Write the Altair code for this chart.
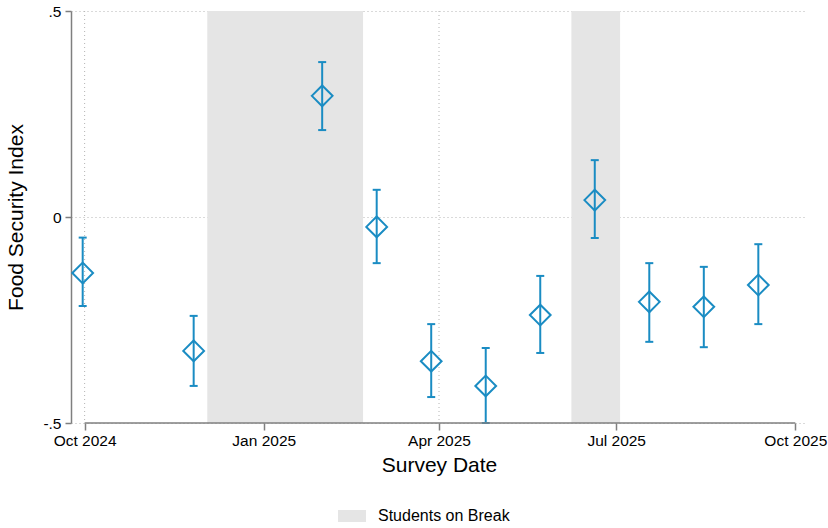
import altair as alt
import pandas as pd

# ---- data ----
survey_dates = ["2024-09-30", "2024-11-26", "2025-01-31", "2025-02-28", "2025-03-28",
                "2025-04-25", "2025-05-23", "2025-06-20", "2025-07-18", "2025-08-15",
                "2025-09-12"]
estimates = [-0.136, -0.325, 0.294, -0.024, -0.350, -0.410, -0.238, 0.041, -0.206, -0.218, -0.165]
ci_low = [-0.216, -0.410, 0.211, -0.112, -0.437, -0.500, -0.330, -0.051, -0.303, -0.316, -0.260]
ci_high = [-0.050, -0.240, 0.376, 0.066, -0.260, -0.318, -0.143, 0.138, -0.112, -0.121, -0.066]

break_starts = ["2024-12-03", "2025-06-08"]
break_ends = ["2025-02-21", "2025-07-03"]
break_label = "Students on Break"

x_tick_dates = ["2024-10-01", "2025-01-01", "2025-04-01", "2025-07-01", "2025-10-01"]
x_grid_dates = ["2024-10-01", "2025-01-01", "2025-04-01", "2025-07-01"]
x_domain = ["2024-09-24", "2025-10-07"]
y_ticks = [-0.5, 0, 0.5]
y_tick_labels = ["-.5", "0", ".5"]

BLUE = "#1a8cc3"
GRAY_AXIS = "#7f7f7f"
GRID = "#b4b4b4"
SHADE = "#e5e5e5"
FONT = "Liberation Sans"


def ms(d):
    return int(pd.Timestamp(d, tz="UTC").value // 10**6)


df = pd.DataFrame({"date": survey_dates, "est": estimates, "lo": ci_low, "hi": ci_high})
breaks = pd.DataFrame({"start": break_starts, "end": break_ends, "label": [break_label] * len(break_starts)})
grid_df = pd.DataFrame({"date": x_grid_dates})
axis_df = pd.DataFrame({"start": [x_tick_dates[0]], "end": [x_tick_dates[-1]], "y": [y_ticks[0]]})

y_label_expr = " : ".join(
    [f"datum.value == {v} ? '{l}'" for v, l in zip(y_ticks, y_tick_labels)]
) + " : ''"

x_scale = alt.Scale(type="utc", domain=[ms(d) for d in x_domain])
y_scale = alt.Scale(domain=[y_ticks[0], y_ticks[-1]], nice=False, zero=False)

x_axis = alt.Axis(
    values=[ms(d) for d in x_tick_dates], labelExpr="utcFormat(datum.value, '%b %Y')",
    domain=False, grid=False, ticks=True, tickSize=7, tickColor=GRAY_AXIS, tickWidth=1.5,
    labelFontSize=15.5, labelPadding=3, labelColor="black", labelFont=FONT,
    title="Survey Date", titleFontSize=21, titleFontWeight="normal", titleFont=FONT,
    titleColor="black", titlePadding=6,
)
y_axis = alt.Axis(
    values=y_ticks, labelExpr=y_label_expr,
    domain=True, domainColor=GRAY_AXIS, domainWidth=1.5,
    ticks=True, tickSize=6, tickColor=GRAY_AXIS, tickWidth=1.5,
    grid=True, gridColor=GRID, gridDash=[1, 3], gridWidth=1,
    labelFontSize=15.5, labelPadding=4, labelColor="black", labelFont=FONT,
    title="Food Security Index", titleFontSize=21, titleFontWeight="normal", titleFont=FONT,
    titleColor="black", titlePadding=16,
)


def X(field):
    return alt.X(f"{field}:T", scale=x_scale, axis=x_axis, title="Survey Date")


def Y(field):
    return alt.Y(f"{field}:Q", scale=y_scale, axis=y_axis, title="Food Security Index")


grid = alt.Chart(grid_df).mark_rule(color=GRID, strokeDash=[1, 3], strokeWidth=1).encode(
    x=X("date")
)

shade = alt.Chart(breaks).mark_rect(opacity=1).encode(
    x=X("start"),
    x2="end:T",
    color=alt.Color(
        "label:N",
        scale=alt.Scale(range=[SHADE]),
        legend=alt.Legend(
            title=None, orient="none", legendX=267, legendY=491, padding=0,
            symbolType="M-1,-0.43L1,-0.43L1,0.43L-1,0.43Z", symbolSize=784,
            symbolStrokeWidth=0, symbolOpacity=1,
            labelFontSize=16, labelFont=FONT, labelColor="black", labelOffset=12,
        ),
    ),
)

bars = alt.Chart(df).mark_rule(color=BLUE, strokeWidth=2).encode(
    x=X("date"), y=Y("lo"), y2="hi:Q"
)
cap_lo = alt.Chart(df).mark_tick(color=BLUE, orient="horizontal", size=8, thickness=2, opacity=1).encode(
    x=X("date"), y=Y("lo")
)
cap_hi = alt.Chart(df).mark_tick(color=BLUE, orient="horizontal", size=8, thickness=2, opacity=1).encode(
    x=X("date"), y=Y("hi")
)
points = alt.Chart(df).mark_point(
    shape="diamond", size=430, filled=False, strokeWidth=2, color=BLUE, opacity=1
).encode(x=X("date"), y=Y("est"))

x_line = alt.Chart(axis_df).mark_rule(color=GRAY_AXIS, strokeWidth=1.5).encode(
    x=X("start"), x2="end:T", y=Y("y")
)

chart = alt.layer(grid, shade, bars, cap_lo, cap_hi, points, x_line).properties(
    width=736, height=412,
    padding={"left": 71, "top": 11, "right": 21, "bottom": 105},
    autosize=alt.AutoSizeParams(type="none"),
).configure(
    font=FONT, background="white",
    view=alt.ViewConfig(strokeWidth=0, stroke="transparent"),
)

chart.save("out.html", embed_options={"renderer": "svg", "actions": False})
